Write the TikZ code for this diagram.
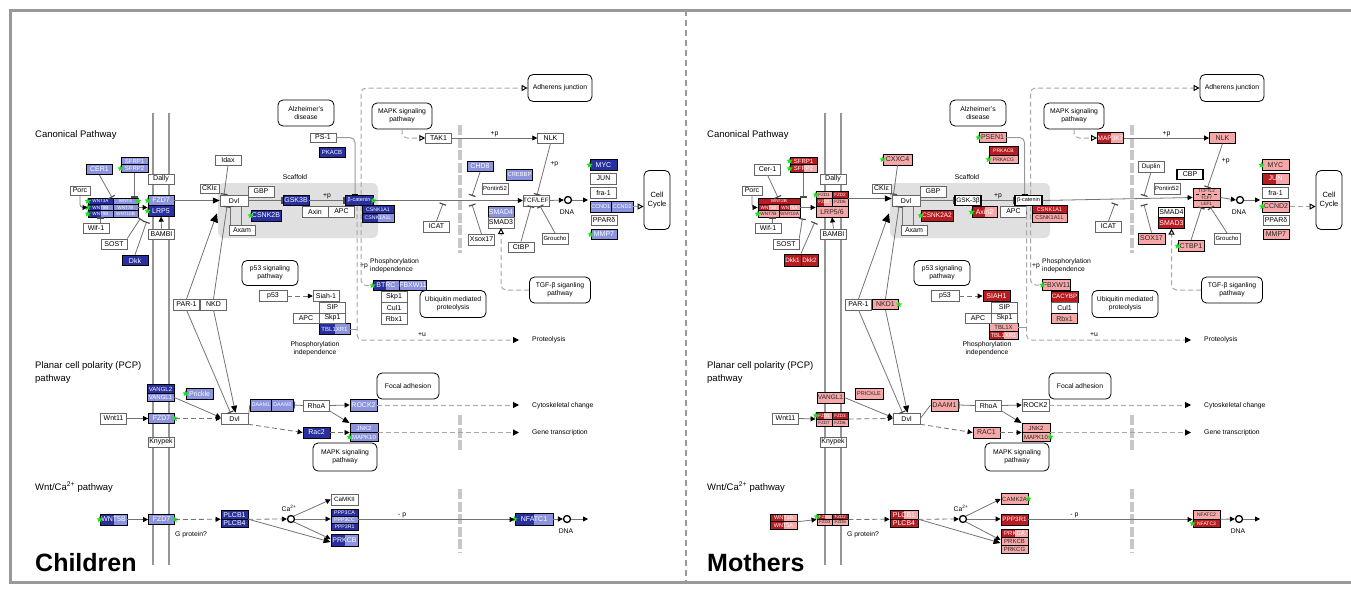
\documentclass[tikz,border=0pt]{standalone}
\usepackage{fontspec}
\setmainfont{Liberation Sans}
\usetikzlibrary{arrows.meta, shapes.geometric, positioning}

\definecolor{dblue}{RGB}{40,48,160}
\definecolor{lblue}{RGB}{140,148,222}
\definecolor{dred}{RGB}{185,28,32}
\definecolor{lred}{RGB}{246,168,168}
\definecolor{stargreen}{RGB}{30,225,30}
\definecolor{membgray}{RGB}{150,150,150}
\newcommand\gfs[1]{\fontsize{#1}{#1}\selectfont}

% what both panels share, behind the genes
\newcommand\wntback{%
  % Scaffold
  \fill[black!12, rounded corners=6pt] (218,183) rectangle (378,238);
  % Plasma membrane
  \draw[membgray, line width=2.5pt] (153,113) -- (153,565) (169,113) -- (169,565);
  % Nuclear membrane
  \draw[black!22, line width=4pt, dash pattern=on 10pt off 2.5pt]
    (460,125) -- (460,253) (460,415) -- (460,450) (460,489) -- (460,552);
}

% what both panels share, in front
\newcommand\wntfront{%
  % Labels
  \node[lab, anchor=west, font=\gfs{9.5}] (tcan) at (35,135) {Canonical Pathway};
  \node[lab, anchor=west, align=left, font=\fontsize{9.5}{13}\selectfont] (tpcp) at (35,373) {Planar cell polarity (PCP)\\pathway};
  \node[lab, anchor=west, font=\gfs{9.5}] (tca) at (35,487) {Wnt/Ca\textsuperscript{2+} pathway};
  \node[lab] (scaf) at (295,177) {Scaffold};
  \node[lab] (pp1) at (364,266) {+p};
  \node[lab, anchor=west, align=left] (pind1) at (370,266) {Phosphorylation\\independence};
  \node[lab] (pind2) at (315,349) {Phosphorylation\\independence};
  \node[lab] (pu) at (422,335) {+u};
  \node[lab, anchor=west] (prot) at (532,340) {Proteolysis};
  \node[lab, anchor=west] (cyto) at (532,406) {Cytoskeletal change};
  \node[lab, anchor=west] (gtr) at (532,433) {Gene transcription};
  \node[lab, anchor=west] (gprot) at (175,535) {G protein?};
  \node[lab] (ca2) at (289,508) {Ca\textsuperscript{2+}};
  \node[lab] (dnat) at (567,212) {DNA};
  \node[lab] (dnat2) at (566,531) {DNA};

  % Pathway maps
  \node[pw, sz={56}{26}] (alz) at (306,113) {Alzheimer's\\disease};
  \node[pw, sz={60}{26}] (mapk1) at (402,116) {MAPK signaling\\pathway};
  \node[pw, sz={64}{27}] (adh) at (560,88) {Adherens junction};
  \node[pw, sz={26}{59}, font=\fontsize{7.5}{9}\selectfont] (cellc) at (657,200) {Cell\\Cycle};
  \node[pw, sz={56}{25}] (p53p) at (270,273) {p53 signaling\\pathway};
  \node[pw, sz={66}{27}] (ubiq) at (453,304) {Ubiquitin mediated\\proteolysis};
  \node[pw, sz={61}{26}] (tgfb) at (560,290) {TGF-β siganling\\pathway};
  \node[pw, sz={62}{26}] (focal) at (408,386) {Focal adhesion};
  \node[pw, sz={64}{28}] (mapk2) at (345,457) {MAPK signaling\\pathway};

  % Common genes
  \node[wb, sz={20}{9.5}] (porc) at (80,190.5) {Porc};
  \node[wb] (wif) at (96,228) {Wif-1};
  \node[wb] (sost) at (114,244) {SOST};
  \node[wb] (dally) at (161,179) {Dally};
  \node[wb] (bambi) at (161.5,234) {BAMBI};
  \node[wb, sz={19}{9.5}] (ckie) at (209.5,188.5) {CKIε};
  \node[wb, sz={28}{11}] (dvl) at (234,200.5) {Dvl};
  \node[wb] (gbp) at (261,191.5) {GBP};
  \node[wb] (apc) at (341.5,211.5) {APC};
  \node[wb] (axam) at (242,230) {Axam};
  \node[wb, font=\gfs{6}] (pontin) at (495,188.5) {Pontin52};
  \node[wb] (icat) at (436.5,226.5) {ICAT};
  \node[wb, font=\gfs{6}] (groucho) at (555,238.5) {Groucho};
  \node[wb] (fra) at (603.5,192.5) {fra-1};
  \node[wb] (ppar) at (604,220) {PPARδ};
  \node[wb, sz={28}{11}] (p53) at (273,296) {p53};
  \node[wb] (sip) at (332.5,307.5) {SIP};
  \node[wb] (apc2) at (306,318) {APC};
  \node[wb] (skp) at (332.5,318) {Skp1};
  \node[wb] (par) at (186.5,304.5) {PAR-1};
  \node[wb] (wnt11) at (113.5,418.5) {Wnt11};
  \node[wb] (knypek) at (161,442) {Knypek};
  \node[wb, sz={27}{11}] (dvl2) at (234.5,418.5) {Dvl};
  \node[wb] (rhoa) at (316.5,405.5) {RhoA};
  \node[circle, draw, line width=1.3pt, minimum size=7, inner sep=0] (dna) at (568,200) {};
  \node[circle, draw, line width=1.3pt, minimum size=7, inner sep=0] (dna2) at (567,519) {};
  \node[circle, draw, line width=1.3pt, minimum size=7, inner sep=0] (cac) at (291,519) {};
  \coordinate (dnaout) at (588,200);
  \coordinate (dna2out) at (588,519);
  \coordinate (b1) at (472,196);
  \coordinate (b2) at (472,204.5);
  \coordinate (b3) at (443,203.5);

  % Canonical pathway
  \draw[ar, rounded corners=3pt] (porc.south) |- (wnt.west);
  \draw[inh] (cer.south) -- ([xshift=-1pt]wnt.north);
  \draw[inh] (sfrp2.south) -- (sfrp2.south |- wnt.north);
  \draw[inh] ([xshift=4pt]wif.north) -- ([xshift=4pt]wif.north |- wnt.south);
  \draw[inh] (sost.north east) -- ([xshift=2pt,yshift=-1pt]wnt.south east);
  \draw[inh] (dkk.north) -- ([xshift=-1pt,yshift=-5pt]lrp.south west);
  \draw[ar] (wnt.east) -- (wnt.east -| fzd.west);
  \draw[ar] (bambi.north) -- (lrp.south);
  \draw[ar, -{Triangle[length=7pt,width=6pt,color=black]}] (fzd.east) -- (fzd.east -| dvl.west);
  \draw[inh] (idax.south) -- ([xshift=-4pt]idax.south |- dvl.north);
  \draw[inh] (dvl.east) -- (gsk.west);
  \draw[inh] (gsk.east) -- node[lab, above=1pt] {+p} (bcat.west);
  \draw[inh] ([xshift=-12pt]axam.north) -- ([xshift=-12pt]axam.north |- dvl.south);
  \draw[line] ([xshift=-1pt]axam.north) -- ([xshift=-1pt]axam.north |- dvl.south);
  \draw[ar, -{Triangle[length=9pt,width=8pt,color=black]}] (par.north) -- ([xshift=-17pt,yshift=-7pt]dvl.south);
  \draw[inh] (nkd.north) -- ([xshift=-7pt]dvl.south);
  \draw[ar] (bcat.east) -- (tcf.west);
  \draw[line, black!40, line width=1pt, rounded corners=5pt, -{Bar[width=6pt,color=black]}] (ps1.east) -| ([xshift=-4pt]bcat.north);
  \draw[dop, rounded corners=5pt] ([xshift=2pt]bcat.north) |- (adh.west);
  \draw[dgr, rounded corners=5pt, shorten >=13pt] ([xshift=-2pt]bcat.south) |- (prot.west);
  \draw[dgrline, rounded corners=5pt] ([xshift=2pt]bcat.south) |- (btrc.west);
  \draw[line, black!40] (tbl.east) -- ([xshift=-2pt]bcat.south |- tbl.east);
  \draw[dop, rounded corners=5pt] (mapk1.south) |- (tak1.west);
  \draw[ar] (tak1.east) -- node[lab, above=1pt] {+p} (nlk.west);
  \draw[inh] (nlk.south) -- node[lab, pos=0.4, right=5pt] {+p} ([xshift=1pt]tcf.north);
  \draw[inh] (chd8.south) -- (b1);
  \draw[inh] (xsox.north) -- (b2);
  \draw[inh] (icat.north) -- (b3);
  \draw[inh] (ctbp.north) -- ([xshift=-5pt]tcf.south);
  \draw[inh] (groucho.north) -- ([xshift=4pt]tcf.south);
  \draw[ar] (tcf.east) -- (dna.west);
  \draw[ar] (dna.east) -- (dnaout);
  \draw[dop] (ccnd.east) -- (ccnd.east -| cellc.west);
  \draw[dop, draw=black!35, rounded corners=5pt] (tgfb.west) -| (smad3.south);
  \draw[dar] (p53.east) -- (siah.west);

  % PCP pathway
  \draw[ar] (wnt11.east) -- (fzd2.west);
  \draw[dar] (fzd2.east) -- (dvl2.west);
  \draw[ar] (vangl1.east) -- ([yshift=1pt]dvl2.west);
  \draw[inh] (par.south) -- ([xshift=-4pt]dvl2.north);
  \draw[ar, -{Triangle[length=7pt,width=6pt,color=black]}] (nkd.south) -- ([xshift=1pt]dvl2.north);
  \draw[line] (dvl2.east) -- (daam.west);
  \draw[inh] (rhoa.west) -- (daam.east);
  \draw[ar] (rhoa.east) -- (rock2.west);
  \draw[ar, -{Triangle[length=7pt,width=6pt,color=black]}] (rhoa.south east) -- (jnk.north west);
  \draw[dar] (dvl2.south east) -- (rac.west);
  \draw[dar] (rac.east) -- (jnk.west);
  \draw[dgr, shorten >=13pt] (rock2.east) -- (rock2.east -| cyto.west);
  \draw[dgr, shorten >=13pt] (jnk.east) -- (jnk.east -| gtr.west);

  % Wnt/Ca2+ pathway
  \draw[ar] (wnt5.east) -- (fzd3.west);
  \draw[dar] (fzd3.east) -- (plcb.west);
  \draw[dar] (plcb.east) -- (cac.west);
  \draw[ar] (cac.north east) -- (camk.west);
  \draw[ar] (cac.east) -- (cac.east -| ppp3.west);
  \draw[ar] (cac.south east) -- ([yshift=1pt]prkc.west);
  \draw[ar, -{Triangle[length=7pt,width=6pt,color=black]}] (plcb.east) -- ([yshift=-2pt]prkc.west);
  \draw[ar] (ppp3.east) -- node[lab, above=1pt, pos=0.28] {- p} (ppp3.east -| nfat.west);
  \draw[ar] (nfat.east) -- (dna2.west);
  \draw[ar] (dna2.east) -- (dna2out);
}

\begin{document}
\begin{tikzpicture}[x=1pt, y=-1pt,
  gene/.style={draw=black, line width=0.8pt, minimum width=26, minimum height=10.5, inner sep=0, font=\gfs{7}},
  wb/.style={gene, draw=black!60, line width=0.5pt, fill=white, text=black},
  wt/.style={gene, fill=white, line width=1.2pt, text=black},
  db/.style={gene, fill=dblue, text=white},
  lb/.style={gene, fill=lblue, text=white},
  dr/.style={gene, fill=dred, text=white},
  lr/.style={gene, fill=lred, text=black!85},
  rhalf/.style={path picture={\fill[#1] (path picture bounding box.north) rectangle (path picture bounding box.south east);}},
  outl/.style={draw=black, line width=0.9pt, inner sep=0},
  sz/.style 2 args={minimum width=#1, minimum height=#2},
  tiny/.style={font=\gfs{4.6}, line width=0.4pt},
  pw/.style={draw=black, fill=white, line width=0.8pt, rounded corners=5pt, align=center, inner sep=0, font=\fontsize{6.8}{8}\selectfont},
  lab/.style={font=\fontsize{6.8}{8}\selectfont, align=center, inner sep=0},
  gstar/.style={star, star points=5, star point ratio=2.2, fill=stargreen, draw=none, minimum size=6.5, inner sep=0},
  line/.style={draw=black!55, line width=0.8pt},
  ar/.style={line, -{Triangle[length=5pt,width=5pt,color=black]}},
  inh/.style={line, -{Bar[width=7pt,line width=1.2pt,color=black!70]}},
  dar/.style={ar, dash pattern=on 5pt off 3pt},
  dgrline/.style={draw=black!35, line width=1pt, dash pattern=on 5pt off 3pt},
  dgr/.style={dgrline, -{Triangle[length=6pt,width=6pt,color=black]}},
  dop/.style={dgrline, -{Triangle[open,length=6pt,width=6pt,color=black]}}]

\useasboundingbox (0,0) rectangle (1351,589);
% Frame
\draw[black!40, line width=3pt] (1352,10) -- (10,10) -- (10,582) -- (1352,582);
\draw[black!40, line width=2pt, dash pattern=on 6pt off 4pt] (686,10) -- (686,582);

% Children
\begin{scope}[name prefix=L-]
  \wntback
  \node[lb] (cer) at (99.5,169.5) {CER1};
  \node[lb, sz={27}{7.5}, font=\gfs{6}] (sfrp1) at (134.5,161) {SFRP1};
  \node[lb, sz={27}{7.5}, font=\gfs{6}] (sfrp2) at (134.5,168.5) {SFRP2};
  \node[db, tiny, sz={25}{6.3}] (wnt1) at (100.5,201.2) {WNT3A};
  \node[lb, tiny, sz={25}{6.3}] (wnt2) at (125.5,201.2) {WNT4};
  \node[db, rhalf=lblue, tiny, sz={25}{6.3}] (wnt3) at (100.5,207.5) {WNT8B};
  \node[lb, tiny, sz={25}{6.3}] (wnt4) at (125.5,207.5) {WNT7B};
  \node[db, rhalf=lblue, tiny, sz={25}{6.3}] (wnt5c) at (100.5,213.8) {WNT9B};
  \node[lb, tiny, sz={25}{6.3}] (wnt6) at (125.5,213.8) {WNT10B};
  \node[outl, sz={50}{19}] (wnt) at (113,207.5) {};
  \node[lb] (fzd) at (161,200.5) {FZD7};
  \node[db] (lrp) at (161,211) {LRP5};
  \node[db] (dkk) at (135,260.5) {Dkk};
  \node[wb] (idax) at (228,160) {Idax};
  \node[db] (gsk) at (296,200.5) {GSK3B};
  \node[wb] (axin) at (315,211.5) {Axin};
  \node[db, sz={28}{10.5}, font=\gfs{5.5}] (bcat) at (359,200.5) {β-catenin};
  \node[db, sz={32}{8.5}, font=\gfs{5.2}] (csnk1) at (378,209.5) {CSNK1A1};
  \node[db, rhalf=lblue, sz={32}{8.5}, font=\gfs{5.2}] (csnk1l) at (378,218) {CSNK1A1L};
  \node[db, sz={30}{11}] (csnk2) at (266,215.5) {CSNK2B};
  \node[db, font=\gfs{6}] (pkac) at (332,152.5) {PKACB};
  \node[wb, sz={26}{9.5}] (ps1) at (323,137.5) {PS-1};
  \node[wb] (tak1) at (438.5,138) {TAK1};
  \node[wb] (nlk) at (550.5,138) {NLK};
  \node[lb] (chd8) at (480,166.5) {CHD8};
  \node[lb, font=\gfs{5.8}] (crebbp) at (519.5,175) {CREBBP};
  \node[wb, font=\gfs{6.3}] (tcf) at (536,200.5) {TCF/LEF};
  \node[lb] (smad4) at (501,212) {SMAD4};
  \node[wb] (smad3) at (501,222.5) {SMAD3};
  \node[wb] (xsox) at (481.5,239.5) {Xsox17};
  \node[wb] (ctbp) at (521,247) {CtBP};
  \node[db, sz={27}{11}] (myc) at (603.5,165) {MYC};
  \node[wb] (jun) at (603.5,178.5) {JUN};
  \node[lb, sz={21.5}{11}, font=\gfs{5.5}] (ccnd1) at (600.75,206.5) {CCND1};
  \node[lb, sz={21.5}{11}, font=\gfs{5.5}] (ccnd2) at (622.25,206.5) {CCND2};
  \node[outl, sz={43}{11}] (ccnd) at (611.5,206.5) {};
  \node[lb] (mmp7) at (604,234.5) {MMP7};
  \node[wb, sz={26}{11}] (siah) at (326,296) {Siah-1};
  \node[db, rhalf=lblue, sz={31}{11}, font=\gfs{6}] (tbl) at (334.5,329) {TBL1XR1};
  \node[db, rhalf=lblue] (btrc) at (386,285.5) {BTRC};
  \node[lb, sz={27}{10.5}] (fbxw) at (413,285.5) {FBXW11};
  \node[wb] (skp2) at (394,296.5) {Skp1};
  \node[wb] (cul) at (394,307.5) {Cul1};
  \node[wb] (rbx) at (394,318.5) {Rbx1};
  \node[wb] (nkd) at (213.5,304.5) {NKD};
  \node[db, sz={27}{8.5}, font=\gfs{6}] (vangl2) at (160.5,389) {VANGL2};
  \node[lb, sz={27}{8.5}, font=\gfs{6}] (vangl1) at (160.5,397.5) {VANGL1};
  \node[lb, sz={27}{11}] (prickle) at (199.5,393.5) {Prickle};
  \node[lb] (fzd2) at (161.5,418.5) {FZD7};
  \node[lb, sz={21.5}{12}, font=\gfs{5.3}] (daam1) at (261,405) {DAAM1};
  \node[lb, sz={21.5}{12}, font=\gfs{5.3}] (daam2) at (282.5,405) {DAAM2};
  \node[outl, sz={43}{12}] (daam) at (271.75,405) {};
  \node[lb, sz={27}{12}] (rock2) at (363.5,405) {ROCK2};
  \node[db, sz={27}{11}] (rac) at (316.5,432.5) {Rac2};
  \node[lb, sz={28}{9}, font=\gfs{6}] (jnk2) at (364,428) {JNK2};
  \node[lb, sz={28}{9}, font=\gfs{6}] (mapk10) at (364,437) {MAPK10};
  \node[outl, sz={28}{18}] (jnk) at (364,432.5) {};
  \node[wb, sz={27}{11}, font=\gfs{6.2}] (camk) at (344.5,499.5) {CaMKII};
  \node[db, tiny, sz={27}{7}, font=\gfs{5.2}] (ppp3ca) at (344.5,512.5) {PPP3CA};
  \node[lb, tiny, sz={27}{7}, font=\gfs{5.2}] (ppp3cc) at (344.5,519.5) {PPP3CC};
  \node[db, tiny, sz={27}{7}, font=\gfs{5.2}] (ppp3r1) at (344.5,526.5) {PPP3R1};
  \node[outl, sz={27}{21}] (ppp3) at (344.5,519.5) {};
  \node[db, rhalf=lblue, sz={27}{12}] (prkc) at (344.5,540) {PRKCB};
  \node[db, rhalf=lblue, sz={27}{11}] (wnt5) at (113.5,519.5) {WNT5B};
  \node[lb] (fzd3) at (161.5,519.5) {FZD7};
  \node[db, sz={27}{8.5}] (plcb1) at (234.5,515) {PLCB1};
  \node[db, sz={27}{8.5}] (plcb4) at (234.5,523.5) {PLCB4};
  \node[outl, sz={27}{17}] (plcb) at (234.5,519.25) {};
  \node[db, rhalf=lblue, sz={38}{12}] (nfat) at (534,519) {NFATC1};
  % Green stars
  \foreach \g/\a [count=\i] in {sfrp2/west, wnt1/west, wnt3/west, wnt5c/west, wnt2/east, fzd/west, lrp/west, bcat/east, csnk2/west, myc/west, mmp7/west, btrc/west, prickle/west, fzd2/east, mapk10/west, wnt5/west, fzd3/east, nfat/west}
    \node[gstar] (st\i) at (\g.\a) {};
  \wntfront
  \node[anchor=west, inner sep=0, font=\bfseries\gfs{25}] (title) at (35,563) {Children};
\end{scope}

% Mothers
\begin{scope}[shift={(672,0)}, name prefix=R-]
  \wntback
  \node[wb] (cer) at (95.5,169.5) {Cer-1};
  \node[dr, sz={27}{7.5}, font=\gfs{6}] (sfrp1) at (131.5,161) {SFRP1};
  \node[dr, rhalf=lred, sz={27}{7.5}, font=\gfs{6}] (sfrp2) at (131.5,168.5) {SFRP2};
  \node[dr, tiny, sz={42}{6.3}] (wnt1) at (107,201.2) {WNT2B};
  \node[dr, rhalf=lred, tiny, sz={21}{6.3}] (wnt3) at (96.5,207.5) {WNT16};
  \node[dr, rhalf=lred, tiny, sz={21}{6.3}] (wnt4) at (117.5,207.5) {WNT5A};
  \node[lr, tiny, sz={21}{6.3}] (wnt5c) at (96.5,213.8) {WNT7B};
  \node[lr, tiny, sz={21}{6.3}] (wnt6) at (117.5,213.8) {WNT10A};
  \node[outl, sz={42}{19}] (wnt) at (107,207.5) {};
  \node[lr, tiny, sz={16}{7.5}] (fzda) at (152,194.75) {FZD1};
  \node[dr, tiny, sz={16}{7.5}] (fzdb) at (168,194.75) {FZD2};
  \node[dr, rhalf=lred, tiny, sz={16}{7.5}] (fzdc) at (152,202.25) {FZD3};
  \node[lr, tiny, sz={16}{7.5}] (fzdd) at (168,202.25) {FZD6};
  \node[outl, sz={32}{15}] (fzd) at (160,198.5) {};
  \node[lr, sz={32}{11}] (lrp) at (160,211.5) {LRP5/6};
  \node[dr, sz={17}{12}, font=\gfs{6.3}] (dkk1) at (120.5,260) {Dkk1};
  \node[dr, sz={17}{12}, font=\gfs{6.3}] (dkk2) at (137.5,260) {Dkk2};
  \node[outl, sz={34}{12}] (dkk) at (129,260) {};
  \node[lr, sz={29}{11}] (idax) at (225.5,159.5) {CXXC4};
  \node[wt, font=\gfs{6.5}] (gsk) at (296,200.5) {GSK-3β};
  \node[dr, rhalf=lred, sz={25}{10.5}] (axin) at (312.5,212) {Axin2};
  \node[wt, sz={27}{10.5}, font=\gfs{5.5}] (bcat) at (356.5,200.5) {β-catenin};
  \node[dr, sz={35}{8.5}, font=\gfs{5.5}] (csnk1) at (377.5,209.5) {CSNK1A1};
  \node[lr, sz={35}{8.5}, font=\gfs{5.5}] (csnk1l) at (377.5,218) {CSNK1A1L};
  \node[dr, sz={32}{11}, font=\gfs{6.5}] (csnk2) at (265,215.5) {CSNK2A2};
  \node[dr, sz={29}{8.5}, font=\gfs{5}] (pkac) at (331.5,151) {PRKACB};
  \node[lr, sz={29}{8.5}, font=\gfs{5}] (pkacg) at (331.5,159.5) {PRKACG};
  \node[lr, sz={27}{9.5}] (ps1) at (320.5,137.5) {PSEN1};
  \node[dr, rhalf=lred, font=\gfs{6.5}] (tak1) at (438.5,138) {MAP3K7};
  \node[lr] (nlk) at (550.5,138) {NLK};
  \node[wb, font=\gfs{6.5}] (chd8) at (479,166.5) {Duplin};
  \node[wt, sz={26}{9.5}] (crebbp) at (518,174.5) {CBP};
  \node[lr, tiny, dashed, sz={27}{6.3}] (tcf1) at (534.5,191.2) {TCF7L2};
  \node[lr, tiny, dashed, sz={27}{6.3}] (tcf2) at (534.5,197.5) {TCF7};
  \node[lr, tiny, dashed, sz={27}{6.3}] (tcf3) at (534.5,203.8) {LEF1};
  \node[outl, sz={27}{19}] (tcf) at (534.5,197.5) {};
  \node[wt] (smad4) at (499.5,212.5) {SMAD4};
  \node[dr] (smad3) at (499.5,223) {SMAD3};
  \node[lr, sz={27}{11}] (xsox) at (479.5,238.5) {SOX17};
  \node[lr, sz={26}{11}] (ctbp) at (519,246) {CTBP1};
  \node[lr, sz={27}{11}] (myc) at (603.5,165) {MYC};
  \node[dr, rhalf=lred, sz={27}{11}] (jun) at (603.5,178.5) {JUN};
  \node[lr, sz={27}{11}] (ccnd) at (604,206.5) {CCND2};
  \node[lr] (mmp7) at (604,234.5) {MMP7};
  \node[dr, sz={27}{11}] (siah) at (324.5,296) {SIAH1};
  \node[lr, sz={29}{8}, font=\gfs{6}] (tbl) at (331.5,327) {TBL1X};
  \node[dr, rhalf=lred, sz={29}{8}, font=\gfs{6}] (tbl2) at (331.5,335) {TBL1XR1};
  \node[lr, sz={27}{11}] (btrc) at (384.5,285) {FBXW11};
  \node[dr, sz={27}{11}, font=\gfs{6.2}] (cacy) at (392.5,296.5) {CACYBP};
  \node[wb] (cul) at (392.5,307.5) {Cul1};
  \node[lr] (rbx) at (392.5,318.5) {Rbx1};
  \node[lr] (nkd) at (213.5,304.5) {NKD1};
  \node[lr, sz={27}{11}, font=\gfs{6.5}] (vangl1) at (158.5,397.5) {VANGL1};
  \node[lr, sz={28}{11}, font=\gfs{5.5}] (prickle) at (197,394) {PRICKLE};
  \node[dr, rhalf=lred, tiny, sz={16}{7}] (fzd2a) at (152,415.5) {FZD1};
  \node[dr, tiny, sz={16}{7}] (fzd2b) at (168,415.5) {FZD3};
  \node[lr, tiny, sz={16}{7}] (fzd2c) at (152,422.5) {FZD7};
  \node[lr, tiny, sz={16}{7}] (fzd2d) at (168,422.5) {FZD6};
  \node[outl, sz={32}{14}] (fzd2) at (160,419) {};
  \node[lr, sz={27}{12}] (daam) at (272.5,405) {DAAM1};
  \node[wb, sz={27}{12}] (rock2) at (363.5,405) {ROCK2};
  \node[lr, sz={27}{11}] (rac) at (314.5,432.5) {RAC1};
  \node[lr, sz={28}{9}, font=\gfs{6}] (jnk2) at (364,428) {JNK2};
  \node[lr, sz={28}{9}, font=\gfs{6}] (mapk10) at (364,437) {MAPK10};
  \node[outl, sz={28}{18}] (jnk) at (364,432.5) {};
  \node[lr, sz={27}{11}, font=\gfs{6}] (camk) at (342.5,499) {CAMK2A};
  \node[dr, sz={27}{11}, font=\gfs{6.3}] (ppp3) at (342.5,519.5) {PPP3R1};
  \node[dr, rhalf=lred, sz={27}{8}, font=\gfs{6}] (prkca) at (342.5,533) {PRKCA};
  \node[lr, sz={27}{8}, font=\gfs{6}] (prkcb) at (342.5,541) {PRKCB};
  \node[lr, sz={27}{8}, font=\gfs{6}] (prkcg) at (342.5,549) {PRKCG};
  \node[outl, sz={27}{24}] (prkc) at (342.5,541) {};
  \node[dr, rhalf=lred, sz={27}{7.5}, font=\gfs{5.5}] (wnt5a) at (111.5,518) {WNT16};
  \node[dr, rhalf=lred, sz={27}{7.5}, font=\gfs{5.5}] (wnt5b) at (111.5,525.5) {WNT5A};
  \node[outl, sz={27}{15}] (wnt5) at (111.5,521.75) {};
  \node[dr, rhalf=lred, tiny, sz={15.5}{5.5}] (fzd3a) at (152.75,516.75) {FZD1};
  \node[dr, tiny, sz={15.5}{5.5}] (fzd3b) at (168.25,516.75) {FZD2};
  \node[lr, tiny, sz={15.5}{5.5}] (fzd3c) at (152.75,522.25) {FZD3};
  \node[lr, tiny, sz={15.5}{5.5}] (fzd3d) at (168.25,522.25) {FZD6};
  \node[outl, sz={31}{11}] (fzd3) at (160.5,519.5) {};
  \node[dr, rhalf=lred, sz={28}{8.5}] (plcb1) at (232,515) {PLCB1};
  \node[dr, sz={28}{8.5}] (plcb4) at (232,523.5) {PLCB4};
  \node[outl, sz={28}{17}] (plcb) at (232,519.25) {};
  \node[lr, sz={27}{8.5}, font=\gfs{5}] (nfatc2) at (534.5,515) {NFATC2};
  \node[dr, sz={27}{8.5}, font=\gfs{5}] (nfatc3) at (534.5,523.5) {NFATC3};
  \node[outl, sz={27}{17}] (nfat) at (534.5,519.25) {};
  % Green stars
  \foreach \g/\a [count=\i] in {sfrp1/west, sfrp2/west, wnt5c/west, fzda/west, idax/west, axin/west, csnk2/west, ps1/west, pkacg/west, ctbp/west, myc/west, ccnd/west, btrc/west, nkd/east, fzd2a/west, mapk10/east, camk/east, fzd3a/west, nfatc3/west}
    \node[gstar] (st\i) at (\g.\a) {};
  \wntfront
  \node[anchor=west, inner sep=0, font=\bfseries\gfs{25}] (title) at (35,563) {Mothers};
\end{scope}
\end{tikzpicture}
\end{document}
